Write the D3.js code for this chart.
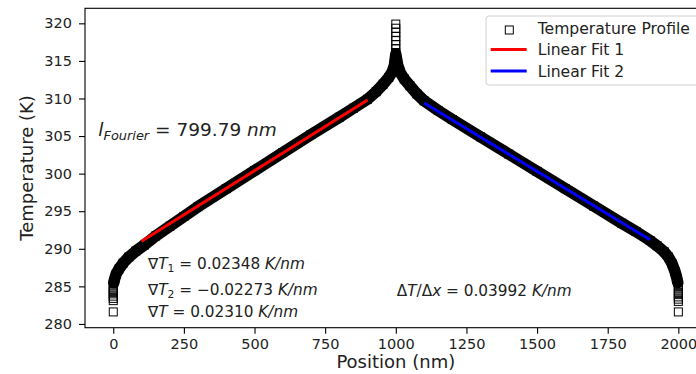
<!DOCTYPE html>
<html>
<head>
<meta charset="utf-8">
<script src="https://cdn.jsdelivr.net/npm/d3@7"></script>
<style>
  html, body { margin: 0; padding: 0; background: #fff; }
  svg { display: block; font-family: "DejaVu Sans", sans-serif; }
</style>
</head>
<body>
<div id="chart"></div>
<script>
// ticks
const xTicks = [0, 250, 500, 750, 1000, 1250, 1500, 1750, 2000];
const yTicks = [280, 285, 290, 295, 300, 305, 310, 315, 320];

// temperature profile, dense part (center of the band)
const bandX = [2, 5, 10, 20, 35, 55, 80, 110, 150, 200, 250, 300, 400, 500, 600, 700, 800, 850, 900, 930,
  955, 975, 988, 995, 1000, 1007, 1015, 1030, 1050, 1075, 1100, 1150, 1200, 1300, 1400, 1500, 1600, 1700, 1800, 1850,
  1900, 1925, 1950, 1965, 1978, 1988, 1994, 1998];
const bandT = [285.5, 286.0, 286.6, 287.3, 288.1, 288.9, 289.7, 290.5, 291.7, 293.0, 294.3, 295.6, 298.0, 300.4, 302.8, 305.2, 307.5, 308.7, 309.9, 310.9,
  311.9, 312.8, 313.6, 314.4, 315.9, 314.4, 313.5, 312.6, 311.7, 310.6, 309.7, 308.4, 307.2, 304.9, 302.6, 300.3, 298.0, 295.7, 293.4, 292.3,
  291.1, 290.4, 289.6, 288.9, 288.0, 287.0, 286.2, 285.5];

// stacked (separate) squares at the walls and at the source
const stackX = [0, 1000, 2000];
const stackLeftT = [281.6, 283.1, 283.4, 283.7, 284.0, 284.3, 284.6, 284.9, 285.2];
const stackPeakT = [319.9, 319.35, 318.8, 318.25, 317.7, 317.15, 316.6, 316.1];
const stackRightT = [281.6, 283.0, 283.3, 283.6, 283.9, 284.2, 284.5, 284.8, 285.1];

// linear fits (end points)
const fit1X = [100, 900];
const fit1T = [291.0, 309.8];
const fit2X = [1100, 1900];
const fit2T = [309.4, 291.2];

const width = 696, height = 374;
const svg = d3.select("#chart").append("svg")
  .attr("width", width).attr("height", height);

const x = d3.scaleLinear().domain([-100, 2100]).range([85, 706.6]);
const y = d3.scaleLinear().domain([279.5, 322]).range([327.7, 8.3]);

const plot = svg.append("g");

// band
const band = bandX.map((v, i) => [v, bandT[i]]);
const line = d3.line().x(d => x(d[0])).y(d => y(d[1]));
plot.append("path")
  .attr("d", line(band))
  .attr("fill", "none")
  .attr("stroke", "#000")
  .attr("stroke-width", 11.5)
  .attr("stroke-linejoin", "round")
  .attr("stroke-linecap", "round");

// markers
const pts = band.slice();
stackLeftT.forEach(t => pts.push([stackX[0], t]));
stackPeakT.forEach(t => pts.push([stackX[1], t]));
stackRightT.forEach(t => pts.push([stackX[2], t]));
const ms = 8;
plot.selectAll("rect.m").data(pts).enter().append("rect")
  .attr("class", "m")
  .attr("x", d => x(d[0]) - ms / 2)
  .attr("y", d => y(d[1]) - ms / 2)
  .attr("width", ms).attr("height", ms)
  .attr("fill", "none")
  .attr("stroke", "#000")
  .attr("stroke-width", 1);

// fits
[[fit1X, fit1T, "#ff0000"], [fit2X, fit2T, "#0000ff"]].forEach(([fx, ft, c]) => {
  plot.append("path")
    .attr("d", line(fx.map((v, i) => [v, ft[i]])))
    .attr("stroke", c)
    .attr("stroke-width", 3)
    .attr("fill", "none");
});

// axes
const xAxis = svg.append("g")
  .attr("transform", `translate(0,${y.range()[0]})`)
  .call(d3.axisBottom(x).tickValues(xTicks).tickFormat(d3.format("d"))
    .tickSize(6).tickPadding(5).tickSizeOuter(0));
const yAxis = svg.append("g")
  .attr("transform", `translate(${x.range()[0]},0)`)
  .call(d3.axisLeft(y).tickValues(yTicks).tickFormat(d3.format("d"))
    .tickSize(6).tickPadding(7).tickSizeOuter(0));
[xAxis, yAxis].forEach(a => {
  a.select(".domain").remove();
  a.selectAll("line").attr("stroke", "#000").attr("stroke-width", 1.1);
  a.selectAll("text").attr("fill", "#222").style("font-size", "14.5px").style("font-family", "DejaVu Sans");
});

// spines
svg.append("rect")
  .attr("x", x.range()[0]).attr("y", y.range()[1])
  .attr("width", x.range()[1] - x.range()[0])
  .attr("height", y.range()[0] - y.range()[1])
  .attr("fill", "none").attr("stroke", "#000").attr("stroke-width", 1.1);

// axis labels
svg.append("text")
  .attr("x", (x.range()[0] + x.range()[1]) / 2).attr("y", 368)
  .attr("text-anchor", "middle").style("font-size", "18px").attr("fill", "#222")
  .text("Position (nm)");
svg.append("text")
  .attr("transform", `translate(33,${(y.range()[0] + y.range()[1]) / 2}) rotate(-90)`)
  .attr("text-anchor", "middle").style("font-size", "18px").attr("fill", "#222")
  .text("Temperature (K)");

// math-like annotations
function mathText(px, py, size, parts) {
  const t = svg.append("text").attr("x", px).attr("y", py)
    .style("font-size", size + "px").attr("fill", "#222");
  let shift = 0;
  parts.forEach(p => {
    const s = t.append("tspan").text(p.s);
    if (p.i) s.style("font-style", "italic");
    const want = p.sub ? size * 0.2 : 0;
    if (want !== shift) { s.attr("dy", want - shift); shift = want; }
    if (p.sub) s.style("font-size", (size * 0.7) + "px");
  });
  return t;
}

mathText(98.3, 136, 18.5, [
  { s: "l", i: true }, { s: "Fourier", i: true, sub: true },
  { s: " = 799.79 " }, { s: "nm", i: true }
]);
mathText(148, 269, 15.3, [
  { s: "∇" }, { s: "T", i: true }, { s: "1", sub: true },
  { s: " = 0.02348 " }, { s: "K/nm", i: true }
]);
mathText(148, 295, 15.3, [
  { s: "∇" }, { s: "T", i: true }, { s: "2", sub: true },
  { s: " = −0.02273 " }, { s: "K/nm", i: true }
]);
mathText(148, 317, 15.3, [
  { s: "∇" }, { s: "T", i: true },
  { s: " = 0.02310 " }, { s: "K/nm", i: true }
]);
mathText(396.7, 296, 15.3, [
  { s: "Δ" }, { s: "T", i: true }, { s: "/Δ" }, { s: "x", i: true },
  { s: " = 0.03992 " }, { s: "K/nm", i: true }
]);

// legend
const lg = svg.append("g");
lg.append("rect")
  .attr("x", 486).attr("y", 16).attr("width", 260).attr("height", 69).attr("rx", 3)
  .attr("fill", "#fff").attr("fill-opacity", 0.8)
  .attr("stroke", "#d0d0d0").attr("stroke-width", 1);
const legendItems = ["Temperature Profile", "Linear Fit 1", "Linear Fit 2"];
const legendColors = ["#000", "#ff0000", "#0000ff"];
legendItems.forEach((name, i) => {
  const cy = 29 + i * 21.5;
  if (i === 0) {
    lg.append("rect").attr("x", 509.3 - ms / 2).attr("y", cy - ms / 2 + 1)
      .attr("width", ms).attr("height", ms)
      .attr("fill", "none").attr("stroke", "#000").attr("stroke-width", 1);
  } else {
    lg.append("line").attr("x1", 490.7).attr("x2", 526.7)
      .attr("y1", cy - 1).attr("y2", cy - 1)
      .attr("stroke", legendColors[i]).attr("stroke-width", 3);
  }
  lg.append("text").attr("x", 537.7).attr("y", cy + 4.5)
    .style("font-size", "15.6px").attr("fill", "#222").text(name);
});
</script>
</body>
</html>
